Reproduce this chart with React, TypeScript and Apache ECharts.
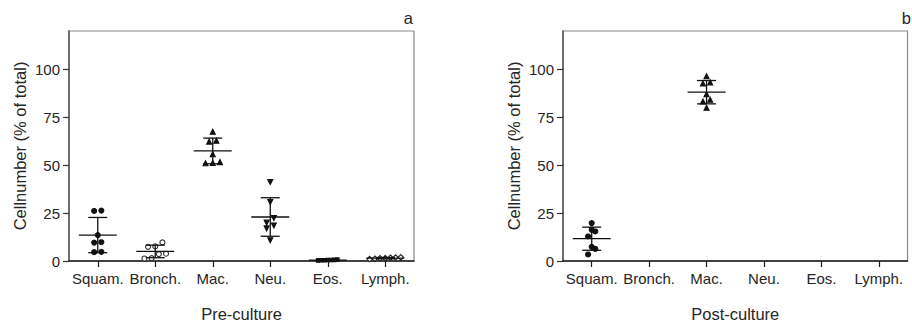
import React, { useEffect, useRef } from "react";
import * as echarts from "echarts";

const categories = ["Squam.", "Bronch.", "Mac.", "Neu.", "Eos.", "Lymph."];
const yTickValues = [0, 25, 50, 75, 100];

// Pre-culture (panel a), % of total cells per donor
const preSquam = [26.3, 26.1, 13.5, 9.8, 9.6, 4.8, 4.6];
const preBronch = [9.7, 7.6, 7.4, 3.8, 3.6, 1.5, 1.3];
const preMac = [67.4, 62.8, 62.3, 55.7, 51.6, 51.2, 51.0];
const preNeu = [41.2, 30.8, 22.4, 20.0, 18.5, 17.0, 10.8];
const preEos = [0.6, 0.4, 0.5, 0.3, 0.7, 0.4, 0.5];
const preLymph = [1.9, 1.8, 1.4, 1.2, 1.0, 1.5, 1.7];

// Post-culture (panel b)
const postSquam = [19.8, 16.3, 15.4, 12.8, 7.4, 6.3, 3.4];
const postBronch: number[] = [];
const postMac = [96.4, 93.2, 92.6, 87.0, 84.1, 83.2, 80.0];
const postNeu: number[] = [];
const postEos: number[] = [];
const postLymph: number[] = [];

const preData = [preSquam, preBronch, preMac, preNeu, preEos, preLymph];
const postData = [postSquam, postBronch, postMac, postNeu, postEos, postLymph];

// marker styles per category
const markerStyles = [
  { symbol: "circle", size: 5, spacing: 7.2, rotate: 0, fill: "#111", border: "#111" },
  { symbol: "circle", size: 5, spacing: 7.2, rotate: 0, fill: "#fff", border: "#333" },
  { symbol: "triangle", size: 5, spacing: 7.2, rotate: 0, fill: "#111", border: "#111" },
  { symbol: "triangle", size: 5, spacing: 7.2, rotate: 180, fill: "#111", border: "#111" },
  { symbol: "rect", size: 3.5, spacing: 3.2, rotate: 0, fill: "#111", border: "#111" },
  { symbol: "diamond", size: 5.5, spacing: 5.2, rotate: 0, fill: "#fff", border: "#222" },
];

const FONT = "'Liberation Sans', Arial, sans-serif";
const TEXT = "#262626";

function meanSd(v: number[]) {
  const m = v.reduce((a, b) => a + b, 0) / v.length;
  const s = Math.sqrt(v.reduce((a, b) => a + (b - m) * (b - m), 0) / (v.length - 1));
  return [m, s];
}

// simple row-based swarm: values close to each other are spread horizontally
function swarm(values: number[], spacing: number, threshold = 3) {
  const sorted = values.map((v, i) => ({ v, i })).sort((a, b) => a.v - b.v);
  const rows: { v: number; i: number }[][] = [];
  sorted.forEach((p) => {
    const last = rows[rows.length - 1];
    if (last && p.v - last[0].v < threshold) last.push(p);
    else rows.push([p]);
  });
  const out: { v: number; dx: number }[] = [];
  rows.forEach((row) => {
    row.forEach((p, k) => {
      out.push({ v: p.v, dx: (k - (row.length - 1) / 2) * spacing });
    });
  });
  return out;
}

function buildSeries(data: number[][], gi: number) {
  const series: any[] = [];
  data.forEach((vals, ci) => {
    if (!vals.length) return;
    const st = markerStyles[ci];
    const pts = swarm(vals, st.spacing).map((d) => ({
      value: [ci, d.v],
      symbolOffset: [d.dx, 0],
    }));
    series.push({
      type: "scatter",
      xAxisIndex: gi,
      yAxisIndex: gi,
      symbol: st.symbol,
      symbolSize: st.size,
      symbolRotate: st.rotate,
      itemStyle: { color: st.fill, borderColor: st.border, borderWidth: 1.1, opacity: 1 },
      data: pts,
      z: 3,
    });
  });
  const stats = data
    .map((vals, ci) => (vals.length ? [ci, ...meanSd(vals)] : null))
    .filter((d) => d !== null);
  series.push({
    type: "custom",
    xAxisIndex: gi,
    yAxisIndex: gi,
    z: 4,
    data: stats,
    renderItem: (params: any, api: any) => {
      const ci = api.value(0);
      const m = api.value(1);
      const s = api.value(2);
      const pm = api.coord([ci, m]);
      const pt = api.coord([ci, m + s]);
      const pb = api.coord([ci, Math.max(0, m - s)]);
      const style = { stroke: "#111", lineWidth: 1.3 };
      const line = (x1: number, y1: number, x2: number, y2: number) => ({
        type: "line",
        shape: { x1, y1, x2, y2 },
        style,
      });
      return {
        type: "group",
        children: [
          line(pm[0] - 19, pm[1], pm[0] + 19, pm[1]),
          line(pm[0], pt[1], pm[0], pb[1]),
          line(pm[0] - 9.5, pt[1], pm[0] + 9.5, pt[1]),
          line(pm[0] - 9.5, pb[1], pm[0] + 9.5, pb[1]),
        ],
      };
    },
  });
  return series;
}

function xAxis(gi: number, title: string) {
  return {
    type: "category",
    gridIndex: gi,
    data: categories,
    boundaryGap: true,
    axisLine: { show: true, lineStyle: { color: "#1a1a1a", width: 1.5 } },
    axisTick: { show: true, alignWithLabel: true, length: 6, lineStyle: { color: "#1a1a1a", width: 1.2 } },
    axisLabel: { interval: 0, fontSize: 15, color: TEXT, margin: 10, fontFamily: FONT },
    splitLine: { show: false },
    name: title,
    nameLocation: "middle",
    nameGap: 44,
    nameTextStyle: { fontSize: 16.5, color: TEXT, fontFamily: FONT },
  };
}

function yAxis(gi: number) {
  return {
    type: "value",
    gridIndex: gi,
    min: 0,
    max: 120,
    interval: 25,
    axisLine: { show: true, lineStyle: { color: "#555", width: 1.5 } },
    axisTick: { show: true, length: 6, customValues: yTickValues, lineStyle: { color: "#333", width: 1.2 } },
    axisLabel: {
      fontSize: 15,
      color: TEXT,
      margin: 9,
      fontFamily: FONT,
      customValues: yTickValues,
      formatter: (v: number) => (v > 100 ? "" : String(v)),
    },
    splitLine: { show: false },
    name: "Cellnumber (% of total)",
    nameLocation: "middle",
    nameRotate: 90,
    nameGap: 41,
    nameTextStyle: { fontSize: 16.5, color: TEXT, fontFamily: FONT },
  };
}

export default function App() {
  const ref = useRef<HTMLDivElement>(null);
  useEffect(() => {
    if (!ref.current) return;
    const chart = echarts.init(ref.current, undefined, { renderer: "svg" });
    chart.setOption({
      animation: false,
      backgroundColor: "#fff",
      textStyle: { fontFamily: FONT },
      grid: [
        { left: 69, top: 31, width: 345, height: 230, outerBoundsMode: "none", containLabel: false, show: true, borderColor: "#888", borderWidth: 1.2, backgroundColor: "transparent" },
        { left: 563, top: 31, width: 344.5, height: 230, outerBoundsMode: "none", containLabel: false, show: true, borderColor: "#888", borderWidth: 1.2, backgroundColor: "transparent" },
      ],
      xAxis: [xAxis(0, "Pre-culture"), xAxis(1, "Post-culture")],
      yAxis: [yAxis(0), yAxis(1)],
      series: [...buildSeries(preData, 0), ...buildSeries(postData, 1)],
      graphic: [
        { type: "text", right: 912 - 413, top: 9, style: { text: "a", fontSize: 16.5, fill: TEXT, fontFamily: FONT } },
        { type: "text", right: 1, top: 9, style: { text: "b", fontSize: 16.5, fill: TEXT, fontFamily: FONT } },
      ],
    });
    return () => chart.dispose();
  }, []);
  return (
    <div
      ref={ref}
      style={{ position: "fixed", left: 0, top: 0, width: 912, height: 323 }}
    />
  );
}
